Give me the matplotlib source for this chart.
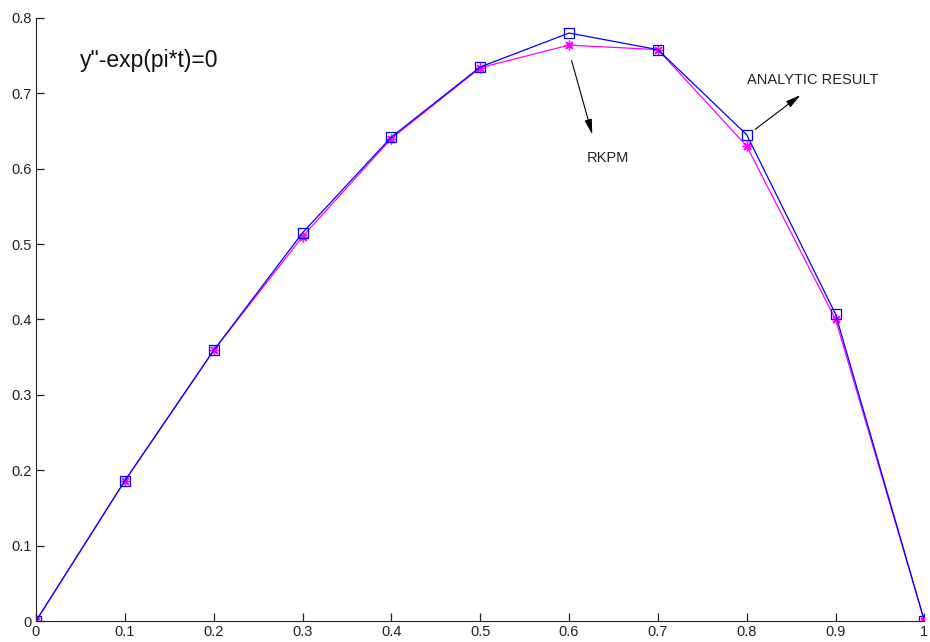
import matplotlib
matplotlib.use("Agg")
import matplotlib.pyplot as plt

# Values
t = [0.0, 0.1, 0.2, 0.3, 0.4, 0.5, 0.6, 0.7, 0.8, 0.9, 1.0]
analytic = [0.0, 0.186, 0.359, 0.515, 0.642, 0.735, 0.780, 0.758, 0.645, 0.407, 0.0]
rkpm = [0.0, 0.186, 0.359, 0.510, 0.640, 0.734, 0.764, 0.758, 0.630, 0.400, 0.0]
xticks = [0, 0.1, 0.2, 0.3, 0.4, 0.5, 0.6, 0.7, 0.8, 0.9, 1]
yticks = [0, 0.1, 0.2, 0.3, 0.4, 0.5, 0.6, 0.7, 0.8]

plt.rcParams["font.family"] = ["Liberation Sans", "DejaVu Sans"]

fig = plt.figure(figsize=(9.3, 6.42), dpi=100)
ax = fig.add_axes([0.0387, 0.0327, 0.9553, 0.9393])

# MATLAB-style '*' marker: plus + cross (8 spokes)
ax.plot(t, rkpm, "-", marker=(8, 2, 0), color="#ff00ff", lw=0.9, ms=7, mew=1.0)
ax.plot(t, analytic, "-s", color="#0000ff", lw=0.9, ms=6.5, mfc="none", mew=0.9)

ax.set_xlim(0, 1)
ax.set_ylim(0, 0.8)
ax.set_xticks(xticks)
ax.set_xticklabels([f"{v:g}" for v in xticks])
ax.set_yticks(yticks)
ax.set_yticklabels([f"{v:g}" for v in yticks])
ax.tick_params(direction="in", length=6, width=0.9, labelsize=10.5,
               colors="#222222", pad=3)
ax.spines["top"].set_visible(False)
ax.spines["right"].set_visible(False)
for s in ("left", "bottom"):
    ax.spines[s].set_color("#222222")

ax.text(0.049, 0.744, 'y"-exp(pi*t)=0', fontsize=16.5, va="center", ha="left",
        color="#111111")

arrow_style = dict(arrowstyle="-|>,head_length=0.9,head_width=0.22",
                   color="black", lw=0.8, mutation_scale=10)

ax.annotate("", xy=(0.627, 0.642), xytext=(0.602, 0.747),
            arrowprops=arrow_style)
ax.text(0.620, 0.614, "RKPM", fontsize=10.5, va="center", ha="left",
        color="#222222")

ax.annotate("", xy=(0.863, 0.700), xytext=(0.807, 0.650),
            arrowprops=arrow_style)
ax.text(0.800, 0.718, "ANALYTIC RESULT", fontsize=10.5, va="center", ha="left",
        color="#222222")

fig.savefig("out.png", dpi=100)
